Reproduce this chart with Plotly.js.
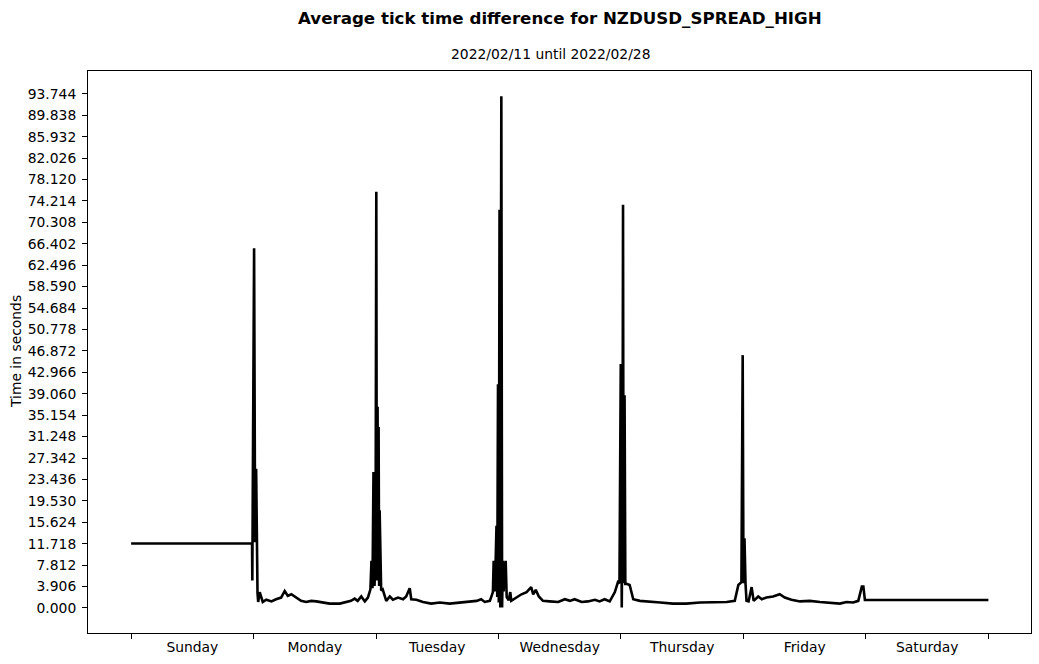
<!DOCTYPE html>
<html>
<head>
<meta charset="utf-8">
<script src="https://cdn.plot.ly/plotly-3.0.1.min.js"></script>
<style>html,body{margin:0;padding:0;background:#fff;}#chart{width:1039px;height:664px;}</style>
</head>
<body>
<div id="chart"></div>
<script>
// Hours since Sunday 00:00 and average tick time difference (seconds)
const hours = [
  0, 23.7, 23.75, 24.1, 24.3, 24.5, 24.77, 24.9, 25.2, 25.8, 26.5, 27.5, 28.4, 29.4, 30.1, 30.7, 31.4,
  32.4, 33.3, 34.3, 35.3, 36.3, 37.3, 38.9, 40.9, 42.2, 43.1, 43.8, 44.4, 45.1, 45.8, 46.4, 46.9,
  47.1, 47.3, 47.5, 47.7, 47.9, 48.05, 48.15, 48.3, 48.4, 48.5, 48.6, 48.7, 49.0, 49.3,
  50.0, 50.7, 51.3, 52.3, 53.3, 53.9, 54.6, 54.9, 55.9, 57.2, 58.8, 60.5, 62.4, 64.4, 66.3, 67.7,
  68.6, 69.3, 70.3, 70.9, 71.05, 71.3, 71.6, 71.75, 71.9, 72.05, 72.2, 72.35, 72.55, 72.7, 72.85,
  73.0, 73.4, 73.6, 74.0, 74.3, 74.5, 75.5, 76.5, 77.5, 78.4, 78.8, 79.3, 79.9, 80.7, 82.0, 83.7,
  85.0, 86.0, 86.9, 88.3, 89.5, 90.9, 91.8, 92.8, 93.8, 94.8, 95.4, 95.7, 95.96, 96.1, 96.15,
  96.3, 96.4, 96.5, 96.7, 96.85, 97.1, 97.7, 98.4, 99.7, 101.7, 103.7, 106.2, 108.8, 111.5,
  114.1, 116.7, 118.3, 119.0, 119.6, 119.85, 120.0, 120.2, 120.4, 120.6, 121.0, 121.6, 122.0,
  122.9, 123.6, 124.5, 125.8, 127.1, 128.1, 129.4, 131.1, 133.0, 135.0, 136.9, 138.9, 140.2,
  141.5, 142.5, 143.2, 143.5, 143.8, 168.0
];
const seconds = [
  11.75, 11.75, 5.0, 65.6, 12.0, 25.4, 2.7, 1.1, 2.9, 1.1, 1.5, 1.2, 1.6, 1.9, 3.1, 2.2, 2.5,
  1.9, 1.3, 1.1, 1.3, 1.2, 1.0, 0.8, 0.8, 1.1, 1.3, 1.7, 1.3, 2.1, 1.2, 1.9, 3.4,
  8.6, 3.6, 24.8, 4.0, 10.0, 75.9, 5.0, 36.7, 6.0, 33.0, 4.0, 17.8, 3.2, 3.4,
  1.3, 2.1, 1.5, 1.9, 1.6, 2.1, 3.6, 1.6, 1.5, 1.1, 0.8, 1.0, 0.8, 1.0, 1.2, 1.3,
  1.6, 1.1, 1.3, 2.9, 8.6, 3.0, 15.0, 2.0, 40.8, 1.0, 72.6, 0.1, 93.3, 0.1, 8.6,
  3.0, 8.6, 2.0, 1.4, 2.9, 1.3, 1.9, 2.5, 2.9, 3.8, 2.5, 3.3, 2.1, 1.3, 1.2, 1.1,
  1.6, 1.3, 1.6, 1.1, 1.2, 1.5, 1.2, 1.6, 1.2, 2.9, 4.7, 4.5, 44.5, 4.0, 0.1,
  20.0, 73.5, 4.5, 38.8, 4.4, 4.4, 4.2, 1.6, 1.3, 1.2, 1.0, 0.8, 0.8, 1.0,
  1.0, 1.1, 1.3, 4.2, 4.7, 46.1, 4.5, 12.7, 4.5, 1.3, 1.2, 3.8, 1.3,
  2.1, 1.6, 1.9, 2.1, 2.5, 1.9, 1.5, 1.2, 1.3, 1.1, 1.0, 0.8, 1.1,
  1.0, 1.3, 3.9, 3.9, 1.45, 1.45
];
const dayNames = ['Sunday', 'Monday', 'Tuesday', 'Wednesday', 'Thursday', 'Friday', 'Saturday'];
const dayCenters = [12, 36, 60, 84, 108, 132, 156];
const dayBounds = [0, 24, 48, 72, 96, 120, 144, 168];
const yTickVals = [0, 3.906, 7.812, 11.718, 15.624, 19.530, 23.436, 27.342, 31.248, 35.154, 39.060,
  42.966, 46.872, 50.778, 54.684, 58.590, 62.496, 66.402, 70.308, 74.214, 78.120, 82.026, 85.932,
  89.838, 93.744];
const yTickText = yTickVals.map(v => v.toFixed(3));

const font = 'DejaVu Sans, sans-serif';
const fs = 13.89;
const trace = {
  x: hours, y: seconds, type: 'scatter', mode: 'lines',
  line: {color: '#000000', width: 2.6}, hoverinfo: 'skip'
};
const layout = {
  width: 1039, height: 664,
  margin: {l: 88, r: 8, t: 71, b: 31, pad: 0},
  paper_bgcolor: '#ffffff', plot_bgcolor: '#ffffff',
  showlegend: false,
  font: {family: font, size: fs, color: '#000000'},
  xaxis: {
    range: [-8.45, 176.35], showgrid: false, zeroline: false,
    showline: true, mirror: true, linecolor: '#000000', linewidth: 1,
    tickmode: 'array', tickvals: dayCenters, ticktext: dayNames,
    ticks: '', ticklen: 0, ticklabelstandoff: 1,
    minor: {tickmode: 'array', tickvals: dayBounds, ticks: 'outside', ticklen: 5, tickwidth: 1, tickcolor: '#000000', showgrid: false},
    tickfont: {family: font, size: fs, color: '#000000'}
  },
  yaxis: {
    range: [-4.56, 97.9], showgrid: false, zeroline: false,
    showline: true, mirror: true, linecolor: '#000000', linewidth: 1,
    tickmode: 'array', tickvals: yTickVals, ticktext: yTickText,
    ticks: 'outside', ticklen: 5, tickwidth: 1, tickcolor: '#000000', ticklabelstandoff: 3,
    tickfont: {family: font, size: fs, color: '#000000'}
  },
  annotations: [
    {text: '<b>Average tick time difference for NZDUSD_SPREAD_HIGH</b>', xref: 'paper', yref: 'paper',
     x: 0.5, y: 1 + (71 - 18) / 562, xanchor: 'center', yanchor: 'middle', showarrow: false,
     font: {family: font, size: 16.67, color: '#000000'}},
    {text: '2022/02/11 until 2022/02/28', xref: 'paper', yref: 'paper',
     x: (551 - 88) / 943, y: 1 + (71 - 54) / 562, xanchor: 'center', yanchor: 'middle', showarrow: false,
     font: {family: font, size: fs, color: '#000000'}},
    {text: 'Time in seconds', xref: 'paper', yref: 'paper', textangle: -90,
     x: (16 - 88) / 943, y: 0.5, xanchor: 'center', yanchor: 'middle', showarrow: false,
     font: {family: font, size: fs, color: '#000000'}}
  ]
};
Plotly.newPlot('chart', [trace], layout, {displayModeBar: false, staticPlot: true});
</script>
</body>
</html>
